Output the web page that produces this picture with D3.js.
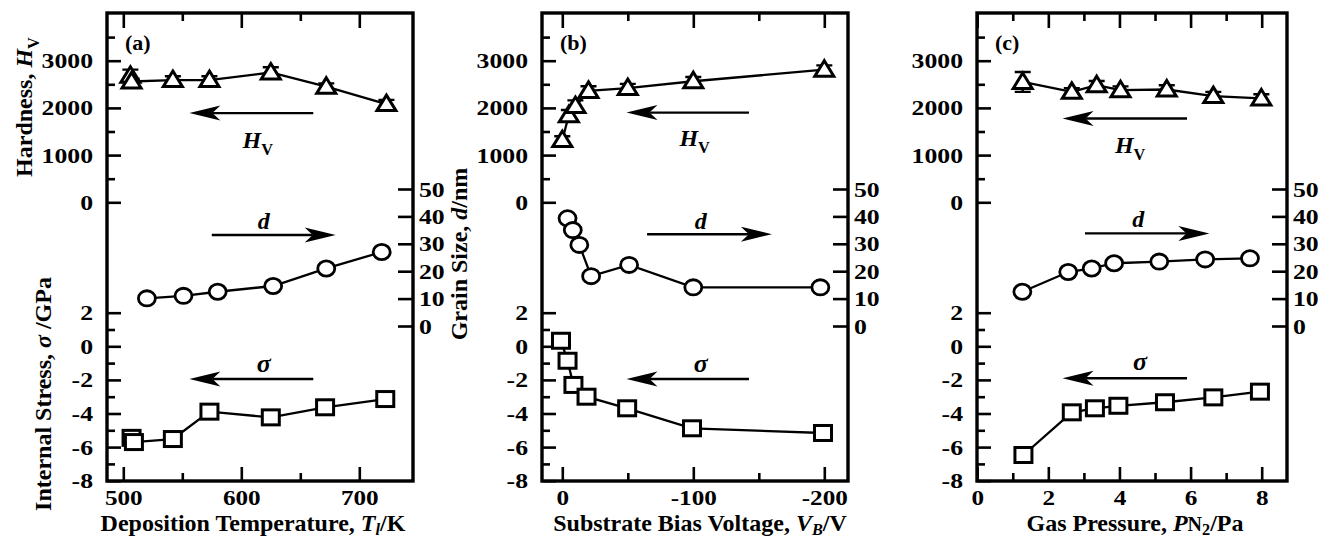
<!DOCTYPE html>
<html><head><meta charset="utf-8">
<script src="https://cdn.jsdelivr.net/npm/d3@7"></script>
<style>
body{margin:0;background:#fff}
text{font-family:"Liberation Serif","Times New Roman",serif;font-weight:bold;fill:#000}
</style>
</head><body>
<svg id="chart" width="1322" height="539"></svg>
<script>
// ---------- shared axis ticks ----------
const hvMajor = [0, 1000, 2000, 3000];
const hvMinor = [500, 1500, 2500, 3500];
const sigmaMajor = [-8, -6, -4, -2, 0, 2];
const sigmaMinor = [-7, -5, -3, -1, 1];
const dMajor = [0, 10, 20, 30, 40, 50];

// ---------- panel (a): deposition temperature ----------
const aXMajor = [500, 600, 700];
const aXMinor = [550, 650];
const aTHv = [506, 507, 542, 573, 625, 672, 723];
const aHv = [2680, 2560, 2590, 2590, 2750, 2450, 2080];
const aHvErr = [130, 60, 80, 80, 110, 70, 90];
const aTD = [520, 551, 580, 627, 672, 719];
const aD = [10.1, 11.0, 12.5, 14.6, 21.0, 27.0];
const aTSigma = [507, 509, 542, 573, 625, 671, 722];
const aSigma = [-5.45, -5.7, -5.52, -3.89, -4.23, -3.63, -3.14];

// ---------- panel (b): substrate bias voltage ----------
const bXMajor = [0, -100, -200];
const bXMinor = [-50, -150];
const bVHv = [0, -5, -10, -20, -50, -100, -200];
const bHv = [1320, 1845, 2040, 2360, 2420, 2565, 2810];
const bHvErr = [80, 110, 120, 100, 90, 90, 90];
const bVD = [-4, -8, -13, -22, -51, -100, -197];
const bD = [39.3, 35.0, 29.6, 18.2, 22.3, 14.1, 14.1];
const bVSigma = [1, -4, -8.5, -18.5, -49.5, -99, -199];
const bSigma = [0.33, -0.86, -2.3, -3.0, -3.69, -4.88, -5.16];

// ---------- panel (c): gas pressure ----------
const cXMajor = [0, 2, 4, 6, 8];
const cXMinor = [1, 3, 5, 7];
const cPHv = [1.28, 2.66, 3.36, 4.03, 5.33, 6.64, 7.99];
const cHv = [2550, 2340, 2480, 2375, 2390, 2250, 2200];
const cHvErr = [210, 80, 90, 80, 90, 90, 90];
const cPD = [1.27, 2.56, 3.22, 3.85, 5.12, 6.41, 7.67];
const cD = [12.5, 19.7, 21.0, 22.9, 23.5, 24.3, 24.7];
const cPSigma = [1.3, 2.66, 3.31, 3.97, 5.28, 6.64, 7.95];
const cSigma = [-6.47, -3.93, -3.69, -3.54, -3.33, -3.04, -2.70];

// annotation arrows (data units): [xFrom, xTo, y, labelX, labelY]
const aArrows = {hv: [661, 556, 1890, 614, 1320], d: [575, 680, 33.2, 619, 38], s: [661, 556, -1.95, 619, -1.15]};
const bArrows = {hv: [-142.5, -49, 1900, -101, 1360], d: [-64.7, -160, 33.5, -105.6, 38], s: [-142.5, -49, -1.95, -105.6, -1.15]};
const cArrows = {hv: [5.9, 2.4, 1776, 4.3, 1211], d: [3.03, 6.53, 33.8, 4.53, 38.7], s: [5.9, 2.4, -1.9, 4.58, -1.05]};

// ---------- layout ----------
const svg = d3.select("#chart");
const frameTop = 13, frameBottom = 481;
const yHv = d3.scaleLinear().domain([0, 3000]).range([202.3, 60.7]);
const yS = d3.scaleLinear().domain([-8, 2]).range([480.7, 312.7]);
const yD = d3.scaleLinear().domain([0, 50]).range([326, 189]);

const panels = [
  {label: "(a)", x0: 107, x1: 413, x: d3.scaleLinear().domain([500, 700]).range([123.3, 359.3]),
   xMaj: aXMajor, xMin: aXMinor, hv: [aTHv, aHv, aHvErr], d: [aTD, aD], s: [aTSigma, aSigma], arrows: aArrows},
  {label: "(b)", x0: 542, x1: 848, x: d3.scaleLinear().domain([0, -200]).range([562.3, 824.3]),
   xMaj: bXMajor, xMin: bXMinor, hv: [bVHv, bHv, bHvErr], d: [bVD, bD], s: [bVSigma, bSigma], arrows: bArrows},
  {label: "(c)", x0: 977, x1: 1287, x: d3.scaleLinear().domain([0, 8]).range([977.2, 1261.7]),
   xMaj: cXMajor, xMin: cXMinor, hv: [cPHv, cHv, cHvErr], d: [cPD, cD], s: [cPSigma, cSigma], arrows: cArrows}
];

// style an axis; fs = tick label font size, sx = horizontal stretch of labels (0 = no labels)
function styleAxis(g, fs, sx) {
  g.select(".domain").remove();
  g.attr("font-family", null);
  g.selectAll(".tick line").attr("stroke", "#000").attr("stroke-width", 2.6);
  if (sx) {
    g.selectAll(".tick text").attr("font-size", fs).attr("fill", "#000").each(function() {
      const t = d3.select(this);
      const x = +t.attr("x") || 0;
      t.attr("x", x / sx).attr("transform", `scale(${sx},1)`);
    });
  }
}
const fmt = d => String(d);

function rich(textSel, parts, size, shift) {
  const sh = shift === undefined ? 0.28 : shift;
  let prevSub = false;
  parts.forEach(p => {
    const ts = textSel.append("tspan").text(p.t);
    if (p.i) ts.attr("font-style", "italic");
    if (p.fs) ts.attr("font-size", p.fs);
    if (p.sub) { ts.attr("font-size", size * 0.68).attr("dy", size * sh); prevSub = true; }
    else if (prevSub) { ts.attr("dy", -size * sh); prevSub = false; }
  });
}

function arrow(g, x1, x2, y) {
  const dir = x2 > x1 ? 1 : -1;
  const L = 31, W = 7.5, N = 8;
  g.append("line").attr("x1", x1).attr("x2", x2 - dir * (L - N)).attr("y1", y).attr("y2", y)
    .attr("stroke", "#000").attr("stroke-width", 2.4);
  g.append("path").attr("d", `M${x2},${y} L${x2 - dir * L},${y - W} L${x2 - dir * (L - N)},${y} L${x2 - dir * L},${y + W} Z`)
    .attr("fill", "#000");
}

panels.forEach((p) => {
  const g = svg.append("g");
  const x = p.x;
  g.append("g").attr("transform", `translate(${p.x0},0)`)
    .call(d3.axisLeft(yHv).tickValues(hvMajor).tickSize(-14).tickPadding(14).tickFormat(fmt)).call(s => styleAxis(s, 22, 1.17));
  g.append("g").attr("transform", `translate(${p.x0},0)`)
    .call(d3.axisLeft(yHv).tickValues(hvMinor).tickSize(-8).tickFormat("")).call(s => styleAxis(s));
  g.append("g").attr("transform", `translate(${p.x0},0)`)
    .call(d3.axisLeft(yS).tickValues(sigmaMajor).tickSize(-14).tickPadding(14).tickFormat(fmt)).call(s => styleAxis(s, 22, 1.17));
  g.append("g").attr("transform", `translate(${p.x0},0)`)
    .call(d3.axisLeft(yS).tickValues(sigmaMinor).tickSize(-8).tickFormat("")).call(s => styleAxis(s));
  g.append("g").attr("transform", `translate(${p.x1},0)`)
    .call(d3.axisRight(yD).tickValues(dMajor).tickSize(-15).tickPadding(6).tickFormat(fmt)).call(s => styleAxis(s, 22, 1.17));
  g.append("g").attr("transform", `translate(0,${frameBottom})`)
    .call(d3.axisBottom(x).tickValues(p.xMaj).tickSize(-14).tickPadding(9).tickFormat(fmt)).call(s => styleAxis(s, 21, 1.2));
  g.append("g").attr("transform", `translate(0,${frameBottom})`)
    .call(d3.axisBottom(x).tickValues(p.xMin).tickSize(-8).tickFormat("")).call(s => styleAxis(s));
  g.append("g").attr("transform", `translate(0,${frameTop})`)
    .call(d3.axisTop(x).tickValues(p.xMaj).tickSize(-15).tickFormat("")).call(s => styleAxis(s));
  g.append("g").attr("transform", `translate(0,${frameTop})`)
    .call(d3.axisTop(x).tickValues(p.xMin).tickSize(-8).tickFormat("")).call(s => styleAxis(s));
  g.append("rect").attr("x", p.x0).attr("y", frameTop).attr("width", p.x1 - p.x0).attr("height", frameBottom - frameTop)
    .attr("fill", "none").attr("stroke", "#000").attr("stroke-width", 3.4);

  g.append("text").attr("x", p.x0 + 18).attr("y", 50).attr("font-size", 22).text(p.label);

  const line = (xs, ys, yScale) => d3.line().x((d, i) => x(xs[i])).y((d, i) => yScale(ys[i]))(ys);
  const lineStyle = s => s.attr("fill", "none").attr("stroke", "#000").attr("stroke-width", 2.3);

  const [hx, hy, he] = p.hv;
  g.append("path").attr("d", line(hx, hy, yHv)).call(lineStyle);
  hy.forEach((v, i) => {
    const cx = x(hx[i]);
    const y1 = yHv(v + he[i]), y2 = yHv(v - he[i]);
    g.append("path").attr("d", `M${cx},${y1}V${y2}M${cx - 8},${y1}H${cx + 8}M${cx - 8},${y2}H${cx + 8}`)
      .attr("stroke", "#000").attr("stroke-width", 2.4).attr("fill", "none");
  });
  hy.forEach((v, i) => {
    const cx = x(hx[i]), cy = yHv(v);
    g.append("path").attr("d", `M${cx},${cy - 9}L${cx + 9.5},${cy + 6.5}L${cx - 9.5},${cy + 6.5}Z`)
      .attr("fill", "#fff").attr("stroke", "#000").attr("stroke-width", 3).attr("stroke-linejoin", "miter");
  });
  const [dx, dy] = p.d;
  g.append("path").attr("d", line(dx, dy, yD)).call(lineStyle);
  dy.forEach((v, i) => {
    g.append("ellipse").attr("cx", x(dx[i])).attr("cy", yD(v)).attr("rx", 8.5).attr("ry", 7.6)
      .attr("fill", "#fff").attr("stroke", "#000").attr("stroke-width", 2.8);
  });
  const [sx, sy] = p.s;
  g.append("path").attr("d", line(sx, sy, yS)).call(lineStyle);
  sy.forEach((v, i) => {
    g.append("rect").attr("x", x(sx[i]) - 8.5).attr("y", yS(v) - 7.5).attr("width", 17).attr("height", 15)
      .attr("fill", "#fff").attr("stroke", "#000").attr("stroke-width", 3);
  });

  const A = p.arrows;
  arrow(g, x(A.hv[0]), x(A.hv[1]), yHv(A.hv[2]));
  rich(g.append("text").attr("x", x(A.hv[3])).attr("y", yHv(A.hv[4]) + 8).attr("text-anchor", "middle").attr("font-size", 24),
    [{t: "H", i: true}, {t: "V", sub: true}], 24);
  arrow(g, x(A.d[0]), x(A.d[1]), yD(A.d[2]));
  g.append("text").attr("x", x(A.d[3])).attr("y", yD(A.d[4]) + 7).attr("text-anchor", "middle")
    .attr("font-size", 24).attr("font-style", "italic").text("d");
  arrow(g, x(A.s[0]), x(A.s[1]), yS(A.s[2]));
  g.append("text").attr("x", x(A.s[3])).attr("y", yS(A.s[4]) + 6).attr("text-anchor", "middle")
    .attr("font-size", 26).attr("font-style", "italic").attr("font-weight", "normal").text("σ");
});

const TT = 24;
rich(svg.append("text").attr("transform", "translate(32,107) rotate(-90)").attr("text-anchor", "middle").attr("font-size", TT),
  [{t: "Hardness, "}, {t: "H", i: true}, {t: "V", sub: true}], TT);
rich(svg.append("text").attr("transform", "translate(51,394) rotate(-90)").attr("text-anchor", "middle").attr("font-size", TT),
  [{t: "Internal Stress, "}, {t: "σ", i: true}, {t: " /GPa"}], TT);
rich(svg.append("text").attr("transform", "translate(467,254) rotate(-90)").attr("text-anchor", "middle").attr("font-size", TT),
  [{t: "Grain Size, "}, {t: "d", i: true}, {t: "/nm"}], TT);

rich(svg.append("text").attr("x", 253).attr("y", 531).attr("text-anchor", "middle").attr("font-size", TT),
  [{t: "Deposition Temperature, "}, {t: "T", i: true}, {t: "l", sub: true, i: true}, {t: "/K"}], TT, 0.15);
rich(svg.append("text").attr("x", 700).attr("y", 531).attr("text-anchor", "middle").attr("font-size", TT),
  [{t: "Substrate Bias Voltage, "}, {t: "V", i: true}, {t: "B", sub: true, i: true}, {t: "/V"}], TT, 0.15);
rich(svg.append("text").attr("x", 1135).attr("y", 531).attr("text-anchor", "middle").attr("font-size", TT),
  [{t: "Gas Pressure, "}, {t: "P", i: true}, {t: "N", fs: 20}, {t: "2", sub: true}, {t: "/Pa"}], TT, 0.15);
</script>
</body></html>
